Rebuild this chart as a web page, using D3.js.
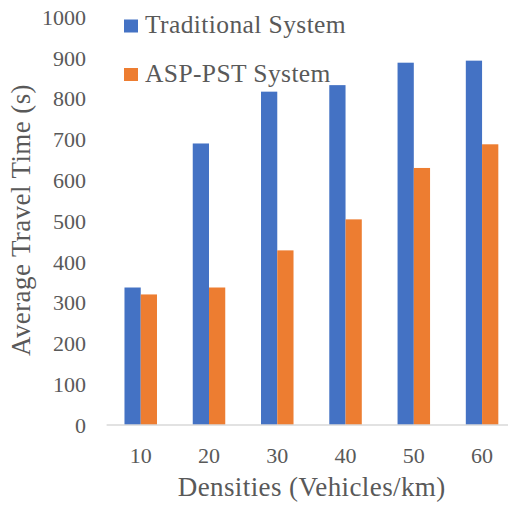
<!DOCTYPE html>
<html>
<head>
<meta charset="utf-8">
<script src="https://cdn.jsdelivr.net/npm/d3@7"></script>
<style>
  html, body { margin: 0; padding: 0; background: #fff; }
  svg { display: block; }
  svg text { font-family: "Liberation Serif", "Times New Roman", serif !important; fill: #595959; }
</style>
</head>
<body>
<svg id="chart" width="508" height="507"></svg>
<script>
// Average travel time by vehicle density for the two systems
const densities = ["10", "20", "30", "40", "50", "60"];
const seriesNames = ["Traditional System", "ASP-PST System"];
const traditional = [337, 690, 817, 833, 888, 893];
const aspPst = [320, 337, 428, 504, 630, 688];
const yTicks = [0, 100, 200, 300, 400, 500, 600, 700, 800, 900, 1000];
const colors = ["#4472C4", "#ED7D31"];
const serif = "Liberation Serif";

const svg = d3.select("#chart");
const plot = { left: 106.6, right: 516.2, top: 17, bottom: 425 };

const x = d3.scaleBand().domain(densities).range([plot.left, plot.right]).paddingInner(0).paddingOuter(0);
const groupWidth = x.bandwidth() / 2.1; // Excel gap width 110%
const xs = d3.scaleBand().domain(seriesNames).range([0, groupWidth]);
const y = d3.scaleLinear().domain([0, 1000]).range([plot.bottom, plot.top]);

const rows = densities.map((d, i) => ({ d, vals: [traditional[i], aspPst[i]] }));

// bars
const g = svg.append("g");
g.selectAll("g.grp").data(rows).join("g")
  .attr("class", "grp")
  .attr("transform", r => `translate(${x(r.d) + (x.bandwidth() - groupWidth) / 2},0)`)
  .selectAll("rect").data(r => r.vals.map((v, k) => ({ v, k })))
  .join("rect")
  .attr("x", o => xs(seriesNames[o.k]))
  .attr("width", xs.bandwidth())
  .attr("y", o => y(o.v))
  .attr("height", o => y(0) - y(o.v))
  .attr("fill", o => colors[o.k]);

// baseline
svg.append("line")
  .attr("x1", plot.left).attr("x2", 508)
  .attr("y1", y(0)).attr("y2", y(0))
  .attr("stroke", "#D9D9D9").attr("stroke-width", 1.3);

// y axis labels
const yAxis = d3.axisLeft(y).tickValues(yTicks).tickSize(0).tickPadding(0).tickFormat(d3.format("d"));
const ya = svg.append("g").attr("transform", "translate(86,0)").call(yAxis);
ya.select(".domain").remove();
ya.attr("font-family", serif);
ya.selectAll("text").attr("font-family", serif).attr("font-size", 22).attr("fill", "#595959").attr("dy", "0.33em");

// x axis labels
const xAxis = d3.axisBottom(x).tickSize(0).tickPadding(0);
const xa = svg.append("g").attr("transform", `translate(0,${plot.bottom})`).call(xAxis);
xa.select(".domain").remove();
xa.attr("font-family", serif);
xa.selectAll("text").attr("font-family", serif).attr("font-size", 22).attr("fill", "#595959").attr("dy", null).attr("y", 38);

// axis titles
svg.append("text")
  .attr("x", 311.7).attr("y", 496)
  .attr("text-anchor", "middle").attr("font-family", serif).attr("font-size", 27)
  .attr("letter-spacing", 0.4)
  .text("Densities (Vehicles/km)");

svg.append("text")
  .attr("transform", "translate(30,220) rotate(-90)")
  .attr("text-anchor", "middle").attr("font-family", serif).attr("font-size", 27)
  .attr("letter-spacing", 0.4)
  .text("Average Travel Time (s)");

// legend
const legend = svg.append("g");
seriesNames.forEach((name, i) => {
  const yy = 33 + i * 48.5;
  legend.append("rect").attr("x", 124).attr("y", yy - 13.5).attr("width", 14).attr("height", 13).attr("fill", colors[i]);
  legend.append("text").attr("x", 145).attr("y", yy).attr("font-family", serif).attr("font-size", 25.5)
    .attr("letter-spacing", 0.4).text(name);
});
</script>
</body>
</html>
